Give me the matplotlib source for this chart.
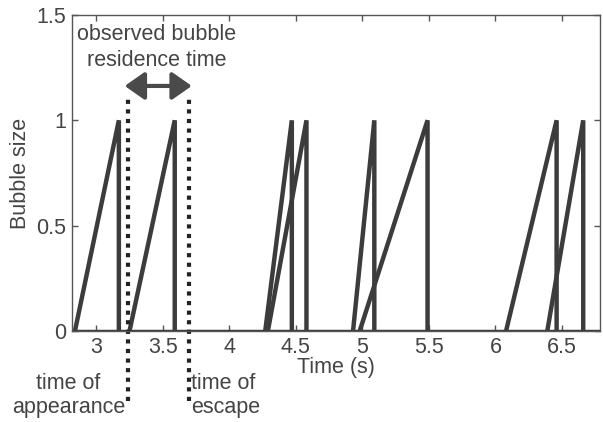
import numpy as np
import matplotlib.pyplot as plt

plt.rcParams['font.family'] = ['Liberation Sans', 'DejaVu Sans']

# bubble appearance / escape times (s), size grows 0 -> 1 then drops
appear = [2.84, 3.25, 4.27, 4.29, 4.93, 4.98, 6.08, 6.39]
escape = [3.17, 3.59, 4.47, 4.58, 5.09, 5.49, 6.46, 6.66]
xticks = [3, 3.5, 4, 4.5, 5, 5.5, 6, 6.5]
xtick_labels = ["3", "3.5", "4", "4.5", "5", "5.5", "6", "6.5"]
yticks = [0, 0.5, 1, 1.5]
ytick_labels = ["0", "0.5", "1", "1.5"]
t_appear = 3.237
t_escape = 3.696

line_col = "#3c3c3c"
text_col = "#444444"
fs = 15.5

fig = plt.figure(figsize=(6.03, 4.22), dpi=100)
ax = fig.add_axes([0.119, 0.2156, 0.876, 0.749])

ax.plot([2.8, 6.8], [0, 0], color=line_col, lw=2.5, solid_capstyle="butt")
for a, e in zip(appear, escape):
    ax.plot([a, e, e], [0, 1, 0], color=line_col, lw=3.2, solid_joinstyle="miter")

# dotted markers for one bubble's residence
for t in (t_appear, t_escape):
    ax.plot([t, t], [-0.33, 1.12], color="#222222", lw=3, ls=(0, (1, 1.3)),
            clip_on=False)

ax.annotate("", xy=(3.214, 1.163), xytext=(3.718, 1.163),
            arrowprops=dict(arrowstyle="<|-|>,head_length=0.6,head_width=0.42",
                            mutation_scale=20, color="#4a4a4a", lw=3,
                            shrinkA=0, shrinkB=0))
ax.text(3.455, 1.405, "observed bubble", ha="center", va="center",
        fontsize=fs, color=text_col)
ax.text(3.455, 1.286, "residence time", ha="center", va="center",
        fontsize=fs, color=text_col)

ax.text(2.79, -0.247, "time of", ha="center", va="center", fontsize=fs,
        color=text_col, clip_on=False)
ax.text(2.79, -0.365, "appearance", ha="center", va="center", fontsize=fs,
        color=text_col, clip_on=False)
ax.text(3.712, -0.247, "time of", ha="left", va="center", fontsize=fs,
        color=text_col, clip_on=False)
ax.text(3.712, -0.365, "escape", ha="left", va="center", fontsize=fs,
        color=text_col, clip_on=False)

ax.set_xlim(2.816, 6.786)
ax.set_ylim(0, 1.5)
ax.set_xticks(xticks)
ax.set_xticklabels(xtick_labels)
ax.set_yticks(yticks)
ax.set_yticklabels(ytick_labels)
ax.tick_params(direction="in", top=True, right=True, length=4, width=1,
               color="#555555", labelsize=fs, labelcolor=text_col, pad=4)
for s in ax.spines.values():
    s.set_color("#555555")
    s.set_linewidth(1)

ax.set_ylabel("Bubble size", fontsize=fs, color=text_col, labelpad=4)
ax.text(0.5, -0.114, "Time (s)", transform=ax.transAxes, ha="center",
        va="center", fontsize=fs, color=text_col)

fig.savefig("out.png", dpi=100)
